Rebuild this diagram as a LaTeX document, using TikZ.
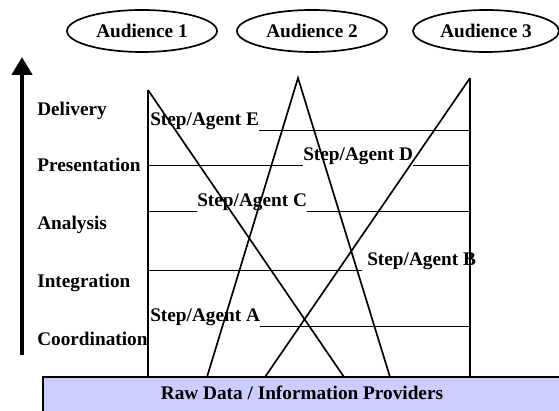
\documentclass[tikz,border=0pt]{standalone}
\usepackage{fontspec}
\setmainfont{Liberation Serif}
\usetikzlibrary{shapes.geometric,arrows.meta}

\definecolor{rawfill}{HTML}{CCCCFF}

\tikzset{
	lbl/.style={font=\fontsize{13.7}{16}\selectfont\bfseries, inner sep=0pt},
	audience/.style={lbl, ellipse, draw, line width=1.2pt, minimum width=3.75cm, minimum height=1.05cm},
	frame/.style={line width=1.2pt},
	rule/.style={line width=0.6pt}
}

\begin{document}
\begin{tikzpicture}
	\useasboundingbox (0,0) rectangle (13.975,10.25);

	% audiences on top
	\node[audience] (aud1) at (3.55,9.475) {Audience 1};
	\node[audience] (aud2) at (7.8,9.475) {Audience 2};
	\node[audience, minimum width=3.65cm] (aud3) at (12.15,9.475) {Audience 3};

	% upward arrow and the levels
	\coordinate (arrbot) at (0.55,1.375);
	\coordinate (arrtop) at (0.55,8.825);
	\draw[line width=3.5pt, -{Triangle[length=0.45cm,width=0.5cm]}] (arrbot) -- (arrtop);
	\node[lbl, anchor=base west] (delivery) at (0.925,7.35) {Delivery};
	\node[lbl, anchor=base west] (presentation) at (0.925,5.95) {Presentation};
	\node[lbl, anchor=base west] (analysis) at (0.925,4.5) {Analysis};
	\node[lbl, anchor=base west] (integration) at (0.925,3.05) {Integration};
	\node[lbl, anchor=base west] (coordination) at (0.925,1.6) {Coordination};

	% providers at the bottom
	\draw[frame, fill=rawfill] (1.075,0.825) rectangle (14.05,-0.075);
	\node[lbl] (raw) at (7.55,0.425) {Raw Data / Information Providers};

	% frame and crossing lines
	\coordinate (topL) at (3.7,8.0);
	\coordinate (topR) at (11.75,8.3);
	\coordinate (peak) at (7.45,8.3);
	\coordinate (botL) at (3.7,0.825);
	\coordinate (botR) at (11.75,0.825);
	\coordinate (b1) at (5.175,0.825);
	\coordinate (b2) at (6.625,0.825);
	\coordinate (b3) at (8.6,0.825);
	\coordinate (b4) at (9.75,0.825);
	\draw[frame] (topL) -- (botL);
	\draw[frame] (topR) -- (botR);
	\draw[frame] (topL) -- (b3);
	\draw[frame] (b1) -- (peak) -- (b4);
	\draw[frame] (topR) -- (b2);

	% steps / agents
	\coordinate (lineE) at (0,7.0);
	\coordinate (lineD) at (0,6.125);
	\coordinate (lineC) at (0,4.975);
	\coordinate (lineB) at (0,3.5);
	\coordinate (lineA) at (0,2.1);
	\node[lbl, anchor=base west] (stepE) at (3.75,7.1) {Step/Agent E};
	\node[lbl, anchor=base west] (stepD) at (7.575,6.225) {Step/Agent D};
	\node[lbl, anchor=base west] (stepC) at (4.925,5.075) {Step/Agent C};
	\node[lbl, anchor=base west] (stepB) at (9.175,3.6) {Step/Agent B};
	\node[lbl, anchor=base west] (stepA) at (3.75,2.2) {Step/Agent A};
	\draw[rule] (stepE.east |- lineE) -- (topR |- lineE);
	\draw[rule] (topL |- lineD) -- (stepD.west |- lineD);
	\draw[rule] (stepD.east |- lineD) -- (topR |- lineD);
	\draw[rule] (topL |- lineC) -- (stepC.west |- lineC);
	\draw[rule] (stepC.east |- lineC) -- (topR |- lineC);
	\draw[rule] (topL |- lineB) -- (9.05,3.5);
	\draw[rule] (stepA.east |- lineA) -- (topR |- lineA);
\end{tikzpicture}
\end{document}
